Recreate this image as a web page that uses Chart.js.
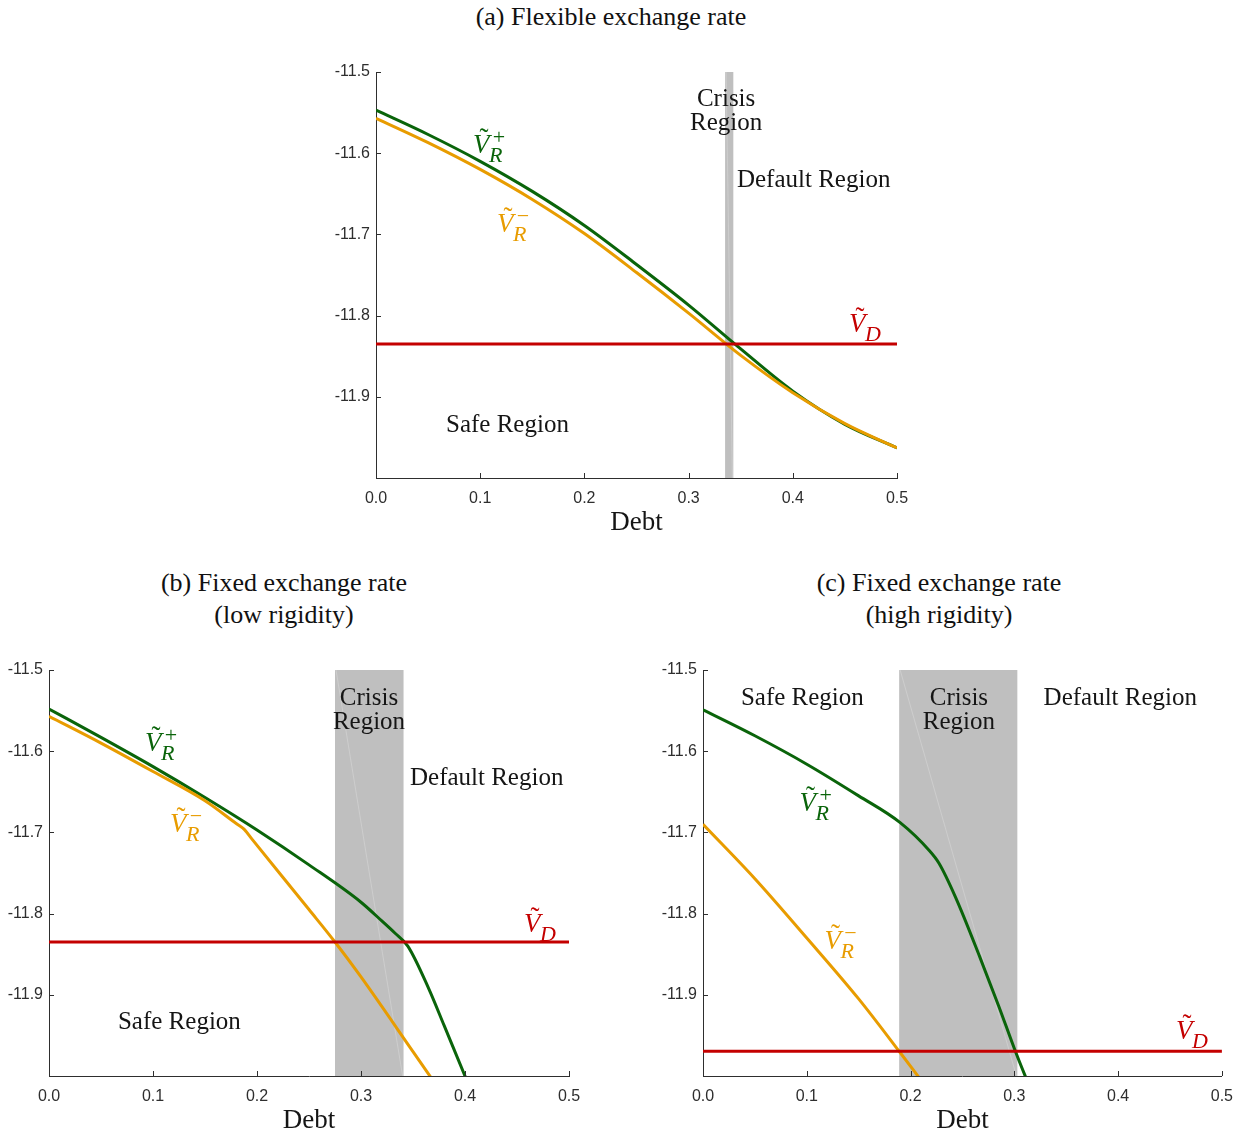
<!DOCTYPE html>
<html>
<head>
<meta charset="utf-8">
<script src="https://cdn.jsdelivr.net/npm/chart.js@4.4.1/dist/chart.umd.min.js"></script>
<style>
  html, body { margin: 0; padding: 0; background: #ffffff; }
  body { width: 1244px; height: 1134px; position: relative; overflow: hidden; }
  canvas { position: absolute; }
  .ttl {
    position: absolute; width: 420px; text-align: center; white-space: nowrap;
    font-family: 'Liberation Serif', 'Times New Roman', serif; font-size: 26px;
    line-height: 32px; color: #111111;
  }
</style>
</head>
<body>
<div class="ttl" style="left:401px; top:1px;">(a) Flexible exchange rate</div>
<div class="ttl" style="left:74px; top:567px;">(b) Fixed exchange rate<br>(low rigidity)</div>
<div class="ttl" style="left:729px; top:567px;">(c) Fixed exchange rate<br>(high rigidity)</div>

<canvas id="chartA" width="620" height="496" style="left:316px; top:40px;"></canvas>
<canvas id="chartB" width="600" height="494" style="left:0px; top:640px;"></canvas>
<canvas id="chartC" width="594" height="494" style="left:650px; top:640px;"></canvas>

<script>
// ---- axes ----
const xTicks = [0, 0.1, 0.2, 0.3, 0.4, 0.5];
const yTicks = [-11.9, -11.8, -11.7, -11.6, -11.5];
const xRange = [0, 0.5];
const yRange = [-12.0, -11.5];

// ---- (a) flexible exchange rate ----
const aDebt   = [0, 0.05, 0.10, 0.15, 0.20, 0.25, 0.30, 0.35, 0.40, 0.45, 0.50];
const aVplus  = [-11.547, -11.577, -11.610, -11.647, -11.689, -11.737, -11.787, -11.841, -11.893, -11.934, -11.963];
const aVminus = [-11.557, -11.587, -11.620, -11.657, -11.699, -11.747, -11.797, -11.849, -11.895, -11.933, -11.963];
const aVD     = -11.835;
const aCrisis = [0.335, 0.343];

// ---- (b) fixed exchange rate, low rigidity ----
const bDebtPlus  = [0, 0.05, 0.10, 0.15, 0.20, 0.25, 0.30, 0.32, 0.3323, 0.345, 0.365, 0.38, 0.40, 0.41];
const bVplus     = [-11.548, -11.583, -11.619, -11.657, -11.697, -11.740, -11.786, -11.809, -11.8236, -11.840, -11.892, -11.938, -12.000, -12.030];
const bDebtMinus = [0, 0.05, 0.10, 0.15, 0.18, 0.1875, 0.195, 0.25, 0.275, 0.30, 0.35, 0.37];
const bVminus    = [-11.557, -11.590, -11.625, -11.661, -11.689, -11.696, -11.708, -11.795, -11.835, -11.878, -11.970, -12.007];
const bVD        = -11.835;
const bCrisis    = [0.275, 0.341];

// ---- (c) fixed exchange rate, high rigidity ----
const cDebtPlus  = [0, 0.05, 0.10, 0.15, 0.19, 0.2178, 0.2274, 0.2434, 0.2666, 0.285, 0.301, 0.313, 0.32];
const cVplus     = [-11.549, -11.581, -11.616, -11.655, -11.688, -11.722, -11.738, -11.780, -11.853, -11.914, -11.9695, -12.008, -12.030];
const cDebtMinus = [0, 0.05, 0.10, 0.15, 0.189, 0.21];
const cVminus    = [-11.690, -11.757, -11.830, -11.905, -11.9695, -12.005];
const cVD        = -11.9695;
const cCrisis    = [0.189, 0.303];

// ---- styling ----
const GREEN = '#0a640a';
const ORANGE = '#e89c00';
const RED = '#c40000';
const BAND = '#bfbfbf';
const AXIS = '#2e2e2e';
const INK = '#151515';
const SERIF = "'Liberation Serif', 'Times New Roman', serif";
const SANS = "'Liberation Sans', Arial, sans-serif";

function toPoints(xs, ys) { return xs.map((x, i) => ({ x: x, y: ys[i] })); }

// V with tilde, italic subscript and optional superscript; (x, y) = left/baseline of V
function drawValueLabel(ctx, x, y, sub, sup, color) {
  ctx.fillStyle = color;
  ctx.textBaseline = 'alphabetic';
  ctx.textAlign = 'left';
  ctx.font = "italic 27px " + SERIF;
  ctx.fillText('V', x, y);
  ctx.textAlign = 'center';
  ctx.font = "27px " + SERIF;
  ctx.fillText('\u02DC', x + 11, y - 6);
  ctx.textAlign = 'left';
  ctx.font = "italic 22px " + SERIF;
  ctx.fillText(sub, x + 16, y + 9);
  if (sup) {
    ctx.font = "22px " + SERIF;
    ctx.textAlign = 'center';
    ctx.fillText(sup, x + 26, y - 9);
  }
}

function makePanel(canvasId, p) {
  const line = (data, color, smooth) => ({
    data: data, borderColor: color, backgroundColor: color, borderWidth: 3,
    pointRadius: 0, fill: false, tension: 0,
    cubicInterpolationMode: smooth ? 'monotone' : 'default'
  });

  const panelPlugin = {
    id: 'panelDecor',
    beforeDraw(chart) {
      const { ctx, chartArea: ca, scales: { x } } = chart;
      const x1 = x.getPixelForValue(p.crisis[0]);
      const x2 = x.getPixelForValue(p.crisis[1]);
      ctx.save();
      ctx.fillStyle = BAND;
      ctx.fillRect(x1, ca.top, x2 - x1, ca.bottom - ca.top);
      // faint seam across the shaded region
      ctx.strokeStyle = 'rgba(255,255,255,0.22)';
      ctx.lineWidth = 1;
      ctx.beginPath();
      ctx.moveTo(x1 + 1, ca.top);
      ctx.lineTo(x2 - 1, ca.bottom);
      ctx.stroke();
      ctx.strokeStyle = 'rgba(255,255,255,0.35)';
      ctx.beginPath();
      ctx.moveTo(x2 + 0.5, ca.top); ctx.lineTo(x2 + 0.5, ca.bottom);
      ctx.moveTo(x1 - 0.5, ca.top); ctx.lineTo(x1 - 0.5, ca.bottom);
      ctx.stroke();
      ctx.restore();
    },
    afterDatasetsDraw(chart) {
      const { ctx, chartArea: ca, scales: { x, y } } = chart;
      ctx.save();
      // inward tick marks
      ctx.strokeStyle = AXIS;
      ctx.lineWidth = 1;
      ctx.beginPath();
      xTicks.forEach(v => {
        const px = Math.round(x.getPixelForValue(v)) + 0.5;
        ctx.moveTo(px, ca.bottom); ctx.lineTo(px, ca.bottom - 5);
      });
      yTicks.forEach(v => {
        const py = Math.round(y.getPixelForValue(v)) + 0.5;
        ctx.moveTo(ca.left, py); ctx.lineTo(ca.left + 5, py);
      });
      ctx.stroke();

      // region captions
      ctx.fillStyle = INK;
      ctx.font = "25px " + SERIF;
      ctx.textBaseline = 'middle';
      p.texts.forEach(t => {
        ctx.textAlign = t.align;
        const px = x.getPixelForValue(t.at[0]);
        const py = y.getPixelForValue(t.at[1]);
        t.lines.forEach((s, i) => ctx.fillText(s, px, py + i * 24));
      });

      // curve labels
      p.values.forEach(v => {
        drawValueLabel(ctx, x.getPixelForValue(v.at[0]), y.getPixelForValue(v.at[1]), v.sub, v.sup, v.color);
      });
      ctx.restore();
    }
  };

  return new Chart(document.getElementById(canvasId), {
    type: 'line',
    data: {
      datasets: [
        line([{ x: xRange[0], y: p.vd }, { x: xRange[1], y: p.vd }], RED, false),
        line(toPoints(p.minusX, p.minus), ORANGE, true),
        line(toPoints(p.plusX, p.plus), GREEN, true)
      ]
    },
    options: {
      responsive: false,
      animation: false,
      devicePixelRatio: 1,
      events: [],
      layout: { padding: p.pad },
      plugins: { legend: { display: false }, tooltip: { enabled: false } },
      scales: {
        x: {
          type: 'linear', min: xRange[0], max: xRange[1],
          afterBuildTicks: s => { s.ticks = xTicks.map(v => ({ value: v })); },
          afterFit: s => { s.height = 58; },
          ticks: { callback: v => Number(v).toFixed(1), font: { family: SANS, size: 16 }, color: AXIS,
                   padding: 11, maxRotation: 0, autoSkip: false },
          grid: { display: true, drawOnChartArea: false, drawTicks: false },
          border: { display: true, color: AXIS, width: 1 },
          title: { display: true, text: 'Debt', color: INK, font: { family: SERIF, size: 27 },
                   padding: { top: 0, bottom: -3 } }
        },
        y: {
          type: 'linear', min: yRange[0], max: yRange[1],
          afterBuildTicks: s => { s.ticks = yTicks.map(v => ({ value: v })); },
          afterFit: s => { s.width = p.yWidth; },
          ticks: { callback: v => Number(v).toFixed(1), font: { family: SANS, size: 16 }, color: AXIS,
                   padding: 6, autoSkip: false },
          grid: { display: true, drawOnChartArea: false, drawTicks: false },
          border: { display: true, color: AXIS, width: 1 }
        }
      }
    },
    plugins: [panelPlugin]
  });
}

makePanel('chartA', {
  plusX: aDebt, plus: aVplus, minusX: aDebt, minus: aVminus, vd: aVD, crisis: aCrisis,
  pad: { top: 32, right: 39, left: 0, bottom: 0 }, yWidth: 60,
  texts: [
    { lines: ['Crisis', 'Region'], at: [0.336, -11.5335], align: 'center' },
    { lines: ['Default Region'], at: [0.3464, -11.634], align: 'left' },
    { lines: ['Safe Region'], at: [0.0672, -11.935], align: 'left' }
  ],
  values: [
    { at: [0.0931, -11.5994], sub: 'R', sup: '+', color: GREEN },
    { at: [0.1161, -11.6975], sub: 'R', sup: '\u2212', color: ORANGE },
    { at: [0.4540, -11.8202], sub: 'D', sup: null, color: RED }
  ]
});

makePanel('chartB', {
  plusX: bDebtPlus, plus: bVplus, minusX: bDebtMinus, minus: bVminus, vd: bVD, crisis: bCrisis,
  pad: { top: 30, right: 31, left: 0, bottom: 0 }, yWidth: 49,
  texts: [
    { lines: ['Crisis', 'Region'], at: [0.3077, -11.5345], align: 'center' },
    { lines: ['Default Region'], at: [0.3471, -11.634], align: 'left' },
    { lines: ['Safe Region'], at: [0.0663, -11.934], align: 'left' }
  ],
  values: [
    { at: [0.0923, -11.5994], sub: 'R', sup: '+', color: GREEN },
    { at: [0.1163, -11.6994], sub: 'R', sup: '\u2212', color: ORANGE },
    { at: [0.4567, -11.8224], sub: 'D', sup: null, color: RED }
  ]
});

makePanel('chartC', {
  plusX: cDebtPlus, plus: cVplus, minusX: cDebtMinus, minus: cVminus, vd: cVD, crisis: cCrisis,
  pad: { top: 30, right: 20, left: 0, bottom: 0 }, yWidth: 53,
  texts: [
    { lines: ['Safe Region'], at: [0.0365, -11.5345], align: 'left' },
    { lines: ['Crisis', 'Region'], at: [0.2466, -11.5345], align: 'center' },
    { lines: ['Default Region'], at: [0.3282, -11.5345], align: 'left' }
  ],
  values: [
    { at: [0.0931, -11.6739], sub: 'R', sup: '+', color: GREEN },
    { at: [0.1171, -11.8436], sub: 'R', sup: '\u2212', color: ORANGE },
    { at: [0.4559, -11.9550], sub: 'D', sup: null, color: RED }
  ]
});
</script>
</body>
</html>
